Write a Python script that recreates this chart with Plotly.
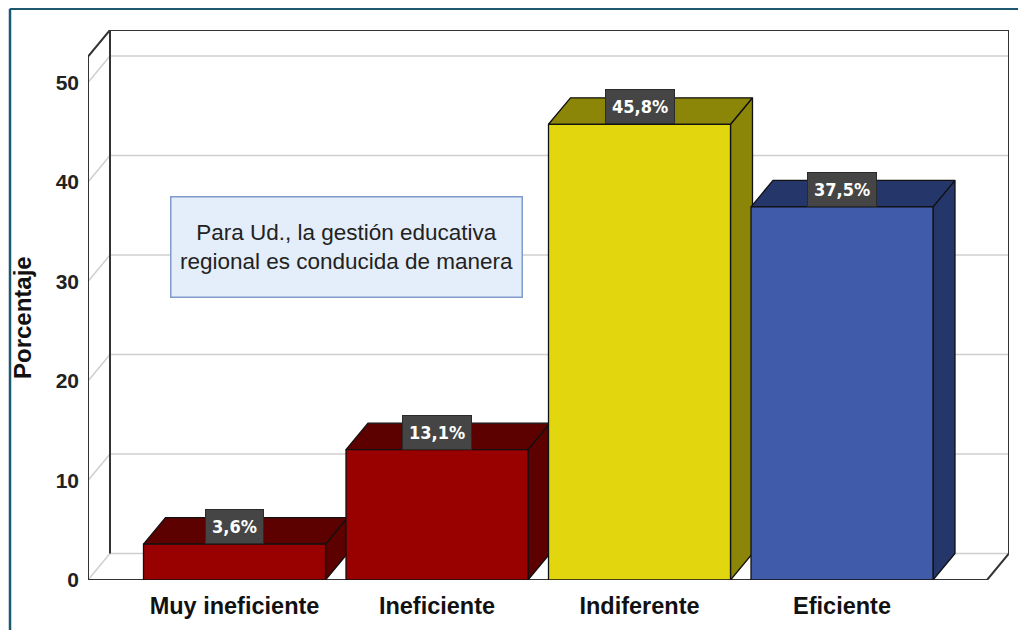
import plotly.graph_objects as go

# ---- data ----
categories = ["Muy ineficiente", "Ineficiente", "Indiferente", "Eficiente"]
values = [3.6, 13.1, 45.8, 37.5]
value_labels = ["3,6%", "13,1%", "45,8%", "37,5%"]
y_ticks = [0, 10, 20, 30, 40, 50]
legend_title = "Para Ud., la gestión educativa<br>regional es conducida de manera"

# ---- styles ----
front_colors = ["#990000", "#990000", "#e2d60e", "#3f5ba9"]
dark_colors = ["#5c0000", "#5c0000", "#8b8508", "#25366a"]

# geometry (px -> data units)
PX_PER_CAT = 202.5
PX_PER_UNIT = 9.95
DX = 22 / PX_PER_CAT
DY = 26.5 / PX_PER_UNIT
HALF_W = 91 / PX_PER_CAT
X_LEFT = (88 - 234.5) / PX_PER_CAT
X_RIGHT = (1009 - 234.5) / PX_PER_CAT
Y_TOP = (580 - 30) / PX_PER_UNIT

# figure placement (page body has an 8px margin)
ML, MT, PW, PH = 80, 22, 921, 550

fig = go.Figure()


def line(xs, ys, color, width):
    fig.add_trace(go.Scatter(x=xs, y=ys, mode="lines",
                             line=dict(color=color, width=width),
                             hoverinfo="skip", showlegend=False))


def poly(xs, ys, fill):
    fig.add_trace(go.Scatter(x=xs + [xs[0]], y=ys + [ys[0]], mode="lines",
                             fill="toself", fillcolor=fill,
                             line=dict(color="#111111", width=1.3),
                             hoverinfo="skip", showlegend=False))


grid = "#cfcfcf"
dark = "#333333"
XLB = X_LEFT + DX

# back wall gridlines and left wall diagonals
for v in y_ticks[1:]:
    line([XLB, X_RIGHT], [v + DY, v + DY], grid, 1.5)
    line([X_LEFT, XLB], [v, v + DY], grid, 1.5)
# floor (back and left diagonal)
line([XLB, X_RIGHT], [DY, DY], grid, 1.5)
line([X_LEFT, XLB], [0, DY], grid, 1.5)
# walls outline
line([XLB, XLB], [DY, Y_TOP], dark, 2)
line([X_LEFT, X_LEFT, XLB, X_RIGHT, X_RIGHT],
     [0, Y_TOP - DY, Y_TOP, Y_TOP, DY], dark, 2)
line([X_RIGHT, X_RIGHT - DX, X_LEFT], [DY, 0, 0], dark, 2)

# bars
for i, v in enumerate(values):
    x0, x1 = i - HALF_W, i + HALF_W
    poly([x1, x1, x1 + DX, x1 + DX], [0, v, v + DY, DY], dark_colors[i])
    poly([x0, x0 + DX, x1 + DX, x1], [v, v + DY, v + DY, v], dark_colors[i])
    poly([x0, x0, x1, x1], [0, v, v, 0], front_colors[i])

annotations = []
for i, v in enumerate(values):
    annotations.append(dict(
        x=i, y=v, xref="x", yref="y", text="<b>%s</b>" % value_labels[i],
        showarrow=False, yanchor="bottom", xanchor="center",
        bgcolor="#454545", bordercolor="#2a2a2a", borderwidth=1, borderpad=6,
        font=dict(family="Liberation Sans Narrow, DejaVu Sans Condensed, Liberation Sans, sans-serif",
                  size=18, color="white")))

# legend-like title box
annotations.append(dict(
    x=(346.5 - 234.5) / PX_PER_CAT, y=(580 - 247) / PX_PER_UNIT, xref="x", yref="y",
    text=legend_title, showarrow=False, xanchor="center", yanchor="middle",
    width=348, height=97, align="center",
    bgcolor="#e4eefa", bordercolor="#7f9ccc", borderwidth=1.5,
    font=dict(family="Liberation Sans, Arial, sans-serif", size=22.5, color="#222222")))

# y axis title
annotations.append(dict(
    x=(14 - ML) / PW, y=(MT + PH - 310) / PH, xref="paper", yref="paper",
    text="<b>Porcentaje</b>", textangle=-90, showarrow=False,
    xanchor="center", yanchor="middle",
    font=dict(family="Liberation Sans, Arial, sans-serif", size=24, color="#111111")))

frame_x = (2 - ML) / PW
frame_y = (MT + PH - 0.8) / PH
fig.update_layout(
    width=1018, height=622,
    margin=dict(l=ML, r=1018 - ML - PW, t=MT, b=622 - MT - PH),
    paper_bgcolor="white", plot_bgcolor="white",
    showlegend=False,
    annotations=annotations,
    shapes=[
        dict(type="line", xref="paper", yref="paper",
             x0=frame_x, x1=(1018 - ML) / PW, y0=frame_y, y1=frame_y,
             line=dict(color="#1d5870", width=2.5)),
        dict(type="line", xref="paper", yref="paper",
             x0=frame_x, x1=frame_x, y0=frame_y, y1=(MT + PH - 640) / PH,
             line=dict(color="#1d5870", width=2.5)),
    ],
    xaxis=dict(range=[X_LEFT, X_RIGHT], tickvals=list(range(len(categories))),
               ticktext=["<b>%s</b>" % c for c in categories],
               showgrid=False, zeroline=False, showline=False, ticks="",
               ticklabelstandoff=9, fixedrange=True,
               tickfont=dict(family="Liberation Sans, Arial, sans-serif", size=23.5, color="#111111")),
    yaxis=dict(range=[0, Y_TOP], tickvals=y_ticks,
               ticktext=["<b>%d</b>" % t for t in y_ticks],
               showgrid=False, zeroline=False, showline=False, ticks="",
               ticklabelstandoff=8, fixedrange=True,
               tickfont=dict(family="Liberation Sans, Arial, sans-serif", size=21, color="#222222")),
)

fig.write_html("out.html")
